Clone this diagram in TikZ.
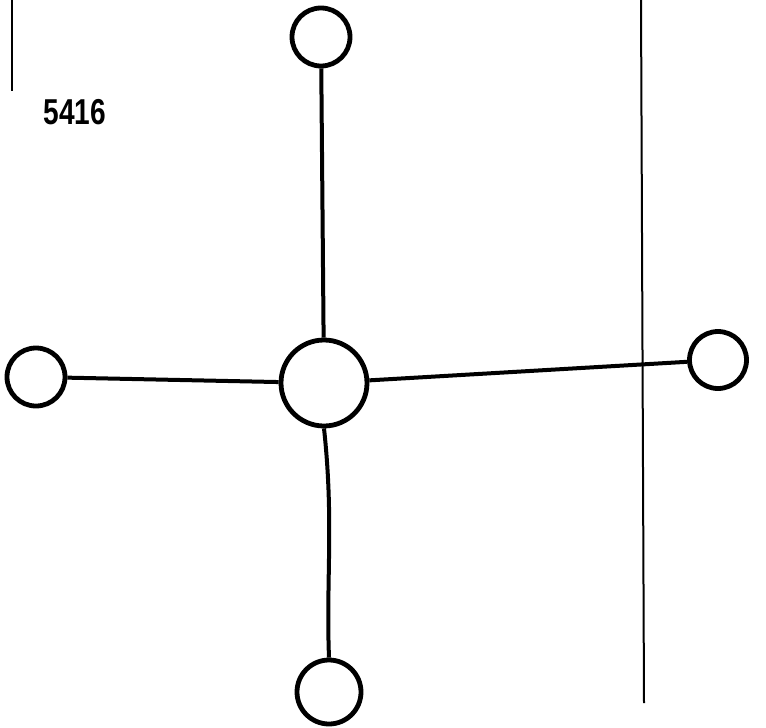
\documentclass[tikz,border=0pt]{standalone}
\usepackage{fontspec}
\usepackage{graphicx}
\setmainfont{Liberation Sans}
\begin{document}
\begin{tikzpicture}[x=1pt,y=-1pt,
  vtx/.style={circle,draw=black,line width=4.8pt,inner sep=0pt,fill=white},
  edge/.style={line width=4pt,black},
  rule/.style={line width=2pt,black}]
\useasboundingbox (0,0) rectangle (766,728);
% vertical rules
\coordinate (l1) at (12,0);
\coordinate (l2) at (12,91);
\coordinate (r1) at (641,0);
\coordinate (r2) at (644,703);
\draw[rule] (l1) -- (l2);
\draw[rule] (r1) -- (r2);
% label
\node (lab) at (75,112) {\fontsize{36}{40}\selectfont\bfseries\scalebox{0.78}[1]{5416}};
% nodes
\node[vtx,minimum size=86pt] (c) at (324,383) {};
\node[vtx,minimum size=58pt] (t) at (321,37) {};
\node[vtx,minimum size=58pt] (l) at (36,377) {};
\node[vtx,minimum size=57pt] (r) at (718,360) {};
\node[vtx,minimum size=64pt] (b) at (329,692) {};
% edges
\draw[edge] (c) -- (t);
\draw[edge] (c) -- (l);
\draw[edge] (c) -- (r);
\draw[edge] (c.south) .. controls (334,520) and (326,580) .. (b.north);
\end{tikzpicture}
\end{document}
